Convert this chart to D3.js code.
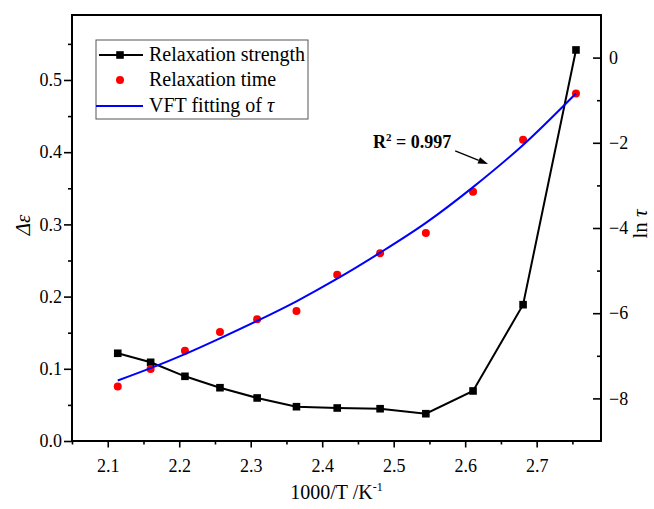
<!DOCTYPE html>
<html>
<head>
<meta charset="utf-8">
<script src="https://cdn.jsdelivr.net/npm/d3@7"></script>
<style>
  body { margin: 0; background: #fff; }
  svg { display: block; }
  text { font-family: "Liberation Serif", "Times New Roman", serif; fill: #000; }
</style>
</head>
<body>
<svg id="chart" width="654" height="509"></svg>
<script>
// Inverse temperature, 1000/T (K^-1)
const invT = [2.114, 2.160, 2.208, 2.257, 2.309, 2.364, 2.421, 2.481, 2.545, 2.611, 2.681, 2.755];
// Relaxation strength, Δε
const strength = [0.1215, 0.109, 0.0896, 0.0738, 0.0596, 0.0475, 0.0457, 0.0447, 0.0378, 0.0693, 0.1888, 0.5416];
// Relaxation time, ln τ
const lnTau = [-7.72, -7.31, -6.88, -6.44, -6.14, -5.95, -5.10, -4.59, -4.12, -3.15, -1.93, -0.84];
// VFT fitted curve of ln τ
const fitX = [2.114, 2.160, 2.208, 2.257, 2.309, 2.364, 2.421, 2.481, 2.545, 2.611, 2.681, 2.755];
const fitLnTau = [-7.58, -7.29, -6.96, -6.59, -6.18, -5.72, -5.19, -4.58, -3.88, -3.04, -2.05, -0.84];

const xTicks = [2.1, 2.2, 2.3, 2.4, 2.5, 2.6, 2.7];
const xMinorTicks = [2.05, 2.15, 2.25, 2.35, 2.45, 2.55, 2.65, 2.75];
const leftTicks = [0.0, 0.1, 0.2, 0.3, 0.4, 0.5];
const leftMinorTicks = [0.05, 0.15, 0.25, 0.35, 0.45, 0.55];
const rightTicks = [-8, -6, -4, -2, 0];
const rightMinorTicks = [-7, -5, -3, -1];

const legendLabels = ["Relaxation strength", "Relaxation time", "VFT fitting of "];
const fitNote = { label: "0.997", x: 2.471, y: -2.12, arrowFrom: [2.586, -2.19], arrowTo: [2.632, -2.50] };

const W = 654, H = 509;
const margin = { top: 15, right: 53, bottom: 68, left: 72 };
const iw = W - margin.left - margin.right;
const ih = H - margin.top - margin.bottom;
const FONT = '"Liberation Serif", "Times New Roman", serif';

const svg = d3.select("#chart");
const g = svg.append("g").attr("transform", `translate(${margin.left},${margin.top})`);

const x = d3.scaleLinear().domain([2.05, 2.79]).range([0, iw]);
const yL = d3.scaleLinear().domain([0, 0.59]).range([ih, 0]);
const yR = d3.scaleLinear().domain([-9, 1]).range([ih, 0]);

function styleAxis(sel, size) {
  sel.attr("font-family", FONT).attr("font-size", size);
  sel.select(".domain").remove();
  sel.selectAll(".tick line").attr("stroke", "#000").attr("stroke-width", 1.6);
  sel.selectAll(".tick text").attr("fill", "#000");
}

// bottom axis
g.append("g").attr("transform", `translate(0,${ih})`)
  .call(d3.axisBottom(x).tickValues(xMinorTicks).tickSize(3.5).tickFormat(""))
  .call(s => styleAxis(s, 18));
g.append("g").attr("transform", `translate(0,${ih})`)
  .call(d3.axisBottom(x).tickValues(xTicks).tickSize(6.5).tickPadding(12).tickFormat(d3.format(".1f")))
  .call(s => styleAxis(s, 18));

// left axis
g.append("g")
  .call(d3.axisLeft(yL).tickValues(leftMinorTicks).tickSize(4).tickFormat(""))
  .call(s => styleAxis(s, 18));
g.append("g")
  .call(d3.axisLeft(yL).tickValues(leftTicks).tickSize(8).tickPadding(2).tickFormat(d3.format(".1f")))
  .call(s => styleAxis(s, 18));

// right axis (ticks point inward)
g.append("g").attr("transform", `translate(${iw},0)`)
  .call(d3.axisRight(yR).tickValues(rightMinorTicks).tickSize(-4).tickFormat(""))
  .call(s => styleAxis(s, 18));
g.append("g").attr("transform", `translate(${iw},0)`)
  .call(d3.axisRight(yR).tickValues(rightTicks).tickSize(-8).tickPadding(8).tickFormat(d3.format("d")))
  .call(s => styleAxis(s, 18));

// frame
g.append("rect").attr("width", iw).attr("height", ih)
  .attr("fill", "none").attr("stroke", "#000").attr("stroke-width", 2);

// relaxation strength
const strengthData = invT.map((v, i) => [v, strength[i]]);
g.append("path").datum(strengthData)
  .attr("fill", "none").attr("stroke", "#000").attr("stroke-width", 2)
  .attr("d", d3.line().x(d => x(d[0])).y(d => yL(d[1])));
g.selectAll(".sq").data(strengthData).join("rect").attr("class", "sq")
  .attr("x", d => x(d[0]) - 3.8).attr("y", d => yL(d[1]) - 3.8)
  .attr("width", 7.6).attr("height", 7.6).attr("fill", "#000");

// relaxation time
const tauData = invT.map((v, i) => [v, lnTau[i]]);
g.selectAll(".dot").data(tauData).join("circle").attr("class", "dot")
  .attr("cx", d => x(d[0])).attr("cy", d => yR(d[1])).attr("r", 4)
  .attr("fill", "#ff0000");

// VFT fit
const fitData = fitX.map((v, i) => [v, fitLnTau[i]]);
g.append("path").datum(fitData)
  .attr("fill", "none").attr("stroke", "#0000ff").attr("stroke-width", 2)
  .attr("d", d3.line().curve(d3.curveMonotoneX).x(d => x(d[0])).y(d => yR(d[1])));

// fit annotation
const note = g.append("text").attr("x", x(fitNote.x)).attr("y", yR(fitNote.y))
  .attr("font-size", 18).attr("font-weight", "bold");
note.append("tspan").text("R");
note.append("tspan").attr("dy", -7).attr("font-size", 11).text("2");
note.append("tspan").attr("dy", 7).text(" = " + fitNote.label);

const ax0 = x(fitNote.arrowFrom[0]), ay0 = yR(fitNote.arrowFrom[1]);
const ax1 = x(fitNote.arrowTo[0]), ay1 = yR(fitNote.arrowTo[1]);
const ang = Math.atan2(ay1 - ay0, ax1 - ax0);
const headLen = 10, headW = 3.5;
const bx = ax1 - headLen * Math.cos(ang), by = ay1 - headLen * Math.sin(ang);
g.append("line").attr("x1", ax0).attr("y1", ay0).attr("x2", bx).attr("y2", by)
  .attr("stroke", "#000").attr("stroke-width", 1.3);
g.append("path")
  .attr("d", `M${ax1},${ay1}L${bx + headW * Math.sin(ang)},${by - headW * Math.cos(ang)}L${bx - headW * Math.sin(ang)},${by + headW * Math.cos(ang)}Z`)
  .attr("fill", "#000");

// legend
const lg = svg.append("g").attr("transform", "translate(96,40)");
lg.append("rect").attr("width", 212).attr("height", 79)
  .attr("fill", "#fff").attr("stroke", "#555").attr("stroke-width", 1);
const rowY = [15, 40, 66];
lg.append("line").attr("x1", 3).attr("x2", 47).attr("y1", rowY[0]).attr("y2", rowY[0])
  .attr("stroke", "#000").attr("stroke-width", 2);
lg.append("rect").attr("x", 24 - 3.8).attr("y", rowY[0] - 3.8).attr("width", 7.6).attr("height", 7.6).attr("fill", "#000");
lg.append("circle").attr("cx", 24).attr("cy", rowY[1]).attr("r", 4).attr("fill", "#ff0000");
lg.append("line").attr("x1", 0).attr("x2", 47).attr("y1", rowY[2]).attr("y2", rowY[2])
  .attr("stroke", "#0000ff").attr("stroke-width", 2);
legendLabels.forEach((t, i) => {
  const tx = lg.append("text").attr("x", 53).attr("y", rowY[i] + 6).attr("font-size", 20).text(t);
  if (i === 2) tx.append("tspan").attr("font-style", "italic").text("τ");
});

// axis titles
const xt = svg.append("text").attr("x", margin.left + iw / 2).attr("y", 499)
  .attr("text-anchor", "middle").attr("font-size", 20).text("1000/T /K");
xt.append("tspan").attr("dy", -8).attr("font-size", 12).text("-1");

svg.append("text").attr("transform", `translate(30,${margin.top + ih / 2 - 3}) rotate(-90)`)
  .attr("text-anchor", "middle").attr("font-size", 21).attr("font-style", "italic").text("Δε");

const rt = svg.append("text").attr("transform", `translate(647,${margin.top + ih / 2 - 4}) rotate(-90)`)
  .attr("text-anchor", "middle").attr("font-size", 21);
rt.append("tspan").text("ln ");
rt.append("tspan").attr("font-style", "italic").text("τ");
</script>
</body>
</html>
